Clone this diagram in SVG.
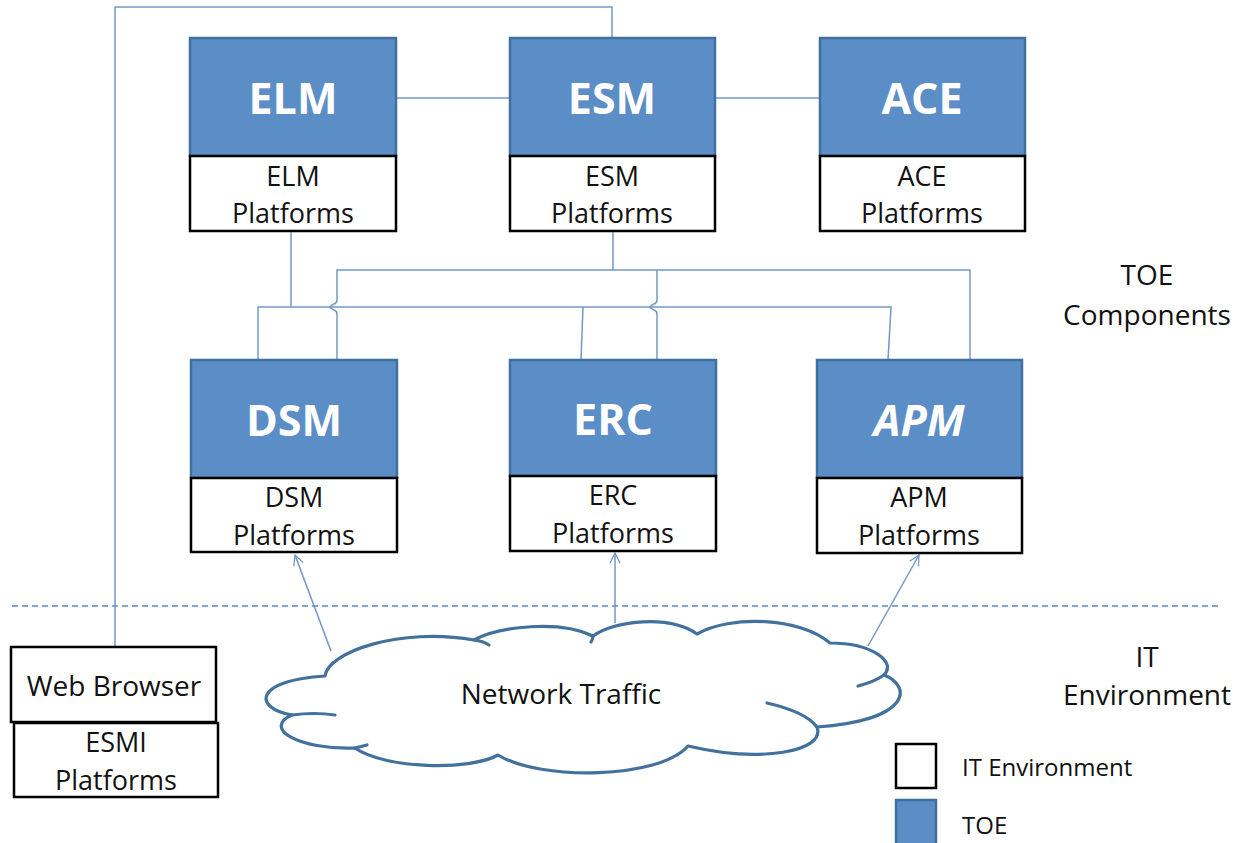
<svg xmlns="http://www.w3.org/2000/svg" width="1244" height="843" viewBox="0 0 1244 843">
  <defs>
    <style>
      .toe { fill: #5B8DC7; stroke: #40709F; stroke-width: 2.5; }
      .env { fill: #FFFFFF; stroke: #000000; stroke-width: 2.5; }
      .title { font-family: "Open Sans", "Liberation Sans", sans-serif; font-weight: bold; font-size: 43px; fill: #FFFFFF; text-anchor: middle; }
      .lbl { font-family: "Open Sans", "Liberation Sans", sans-serif; font-size: 27px; fill: #111111; text-anchor: middle; }
      .big { font-size: 28px; }
      .leg { font-family: "Open Sans", "Liberation Sans", sans-serif; font-size: 24px; fill: #111111; }
      .wire { fill: none; stroke: #7198C9; stroke-width: 1.5; }
      .cloud { fill: #FFFFFF; stroke: #41719C; stroke-width: 3.2; stroke-linejoin: round; }
      .tail { fill: none; stroke: #41719C; stroke-width: 3.2; stroke-linecap: round; }
    </style>
    <marker id="open-arrow" viewBox="0 0 12 12" refX="11" refY="6" markerWidth="12" markerHeight="12" markerUnits="userSpaceOnUse" orient="auto">
      <path d="M1,1 L11,6 L1,11" fill="none" stroke="#7198C9" stroke-width="1.3"/>
    </marker>
  </defs>

  <rect width="1244" height="843" fill="#FFFFFF"/>

  <!-- boundary between TOE and IT environment -->
  <line x1="12" y1="606" x2="1218" y2="606" stroke="#5B87BF" stroke-width="1.5" stroke-dasharray="6 4"/>

  <!-- connectors -->
  <g id="connectors">
    <!-- web browser to ESM -->
    <path class="wire" d="M115,646 V7 H612 V38"/>
    <!-- ELM - ESM - ACE -->
    <line class="wire" x1="396" y1="98" x2="510" y2="98"/>
    <line class="wire" x1="716" y1="98" x2="820" y2="98"/>
    <!-- ELM bus -->
    <path class="wire" d="M291,231 V307"/>
    <path class="wire" d="M258,360 V307 H891 L888,360"/>
    <path class="wire" d="M583,307 L581,360"/>
    <!-- ESM bus, hopping over the ELM bus -->
    <path class="wire" d="M613,231 V270"/>
    <path class="wire" d="M337,360 V314 Q337,311 334,310 Q330,308 330,307 Q330,306 334,304 Q337,303 337,300 V270 H970 V360"/>
    <path class="wire" d="M657,270 V300 Q657,303 654,304 Q650,306 650,307 Q650,308 654,310 Q657,311 657,314 V360"/>
    <!-- traffic to the sensors -->
    <line class="wire" x1="331" y1="651" x2="295" y2="555" marker-end="url(#open-arrow)"/>
    <line class="wire" x1="615" y1="623" x2="615" y2="553" marker-end="url(#open-arrow)"/>
    <line class="wire" x1="868" y1="646" x2="919" y2="555" marker-end="url(#open-arrow)"/>
  </g>

  <!-- TOE components, top row -->
  <g id="elm">
    <rect class="toe" x="190" y="38" width="206" height="118"/>
    <text class="title" x="293" y="114">ELM</text>
    <rect class="env" x="190" y="156" width="206" height="75"/>
    <text class="lbl" x="293" y="186">ELM</text>
    <text class="lbl" x="293" y="223">Platforms</text>
  </g>
  <g id="esm">
    <rect class="toe" x="510" y="38" width="205" height="118"/>
    <text class="title" x="612" y="114">ESM</text>
    <rect class="env" x="510" y="156" width="205" height="75"/>
    <text class="lbl" x="612" y="186">ESM</text>
    <text class="lbl" x="612" y="223">Platforms</text>
  </g>
  <g id="ace">
    <rect class="toe" x="820" y="38" width="205" height="118"/>
    <text class="title" x="922" y="114">ACE</text>
    <rect class="env" x="820" y="156" width="205" height="75"/>
    <text class="lbl" x="922" y="186">ACE</text>
    <text class="lbl" x="922" y="223">Platforms</text>
  </g>

  <!-- TOE components, sensor row -->
  <g id="dsm">
    <rect class="toe" x="191" y="360" width="206" height="118"/>
    <text class="title" x="294" y="436">DSM</text>
    <rect class="env" x="191" y="478" width="206" height="74"/>
    <text class="lbl" x="294" y="507">DSM</text>
    <text class="lbl" x="294" y="545">Platforms</text>
  </g>
  <g id="erc">
    <rect class="toe" x="510" y="360" width="206" height="116"/>
    <text class="title" x="613" y="435">ERC</text>
    <rect class="env" x="510" y="476" width="206" height="75"/>
    <text class="lbl" x="613" y="505">ERC</text>
    <text class="lbl" x="613" y="543">Platforms</text>
  </g>
  <g id="apm">
    <rect class="toe" x="817" y="360" width="205" height="118"/>
    <text class="title" x="919" y="436" font-style="italic">APM</text>
    <rect class="env" x="817" y="478" width="205" height="75"/>
    <text class="lbl" x="919" y="507">APM</text>
    <text class="lbl" x="919" y="545">Platforms</text>
  </g>

  <!-- IT environment -->
  <g id="network-traffic">
    <path class="cloud" d="M325,676 C328,652 400,627 474,640 C500,626 560,620 593,636 C615,620 670,615 697,634 C730,615 800,617 830,643 C872,643 897,662 884,675 C912,686 912,720 817,727 C826,752 760,763 688,746 C660,779 540,781 498,755 C470,771 385,769 355,748 C298,750 262,728 292,715 C252,708 255,680 325,676 Z"/>
    <path class="tail" d="M474,640 Q483,641 489,645"/>
    <path class="tail" d="M884,675 Q874,682 858,686"/>
    <path class="tail" d="M767,703 Q806,712 817,727"/>
    <path class="tail" d="M355,748 L367,745"/>
    <path class="tail" d="M292,715 Q314,712 335,715"/>
    <path class="tail" d="M593,636 Q593,639 591,642"/>
    <text class="lbl big" x="561" y="704">Network Traffic</text>
  </g>
  <g id="web-browser">
    <rect class="env" x="11" y="647" width="205" height="75"/>
    <text class="lbl big" x="114" y="696">Web Browser</text>
    <rect class="env" x="14" y="723" width="204" height="74"/>
    <text class="lbl" x="116" y="752">ESMI</text>
    <text class="lbl" x="116" y="790">Platforms</text>
  </g>

  <!-- zone captions -->
  <g id="zone-labels">
    <text class="lbl big" x="1147" y="285">TOE</text>
    <text class="lbl big" x="1147" y="325">Components</text>
    <text class="lbl big" x="1147" y="667">IT</text>
    <text class="lbl big" x="1147" y="705">Environment</text>
  </g>

  <!-- legend -->
  <g id="legend">
    <rect class="env" x="896" y="744" width="40" height="44"/>
    <text class="leg" x="962" y="776">IT Environment</text>
    <rect class="toe" x="896" y="800" width="40" height="48" stroke="#000000"/>
    <text class="leg" x="962" y="834">TOE</text>
  </g>
</svg>
